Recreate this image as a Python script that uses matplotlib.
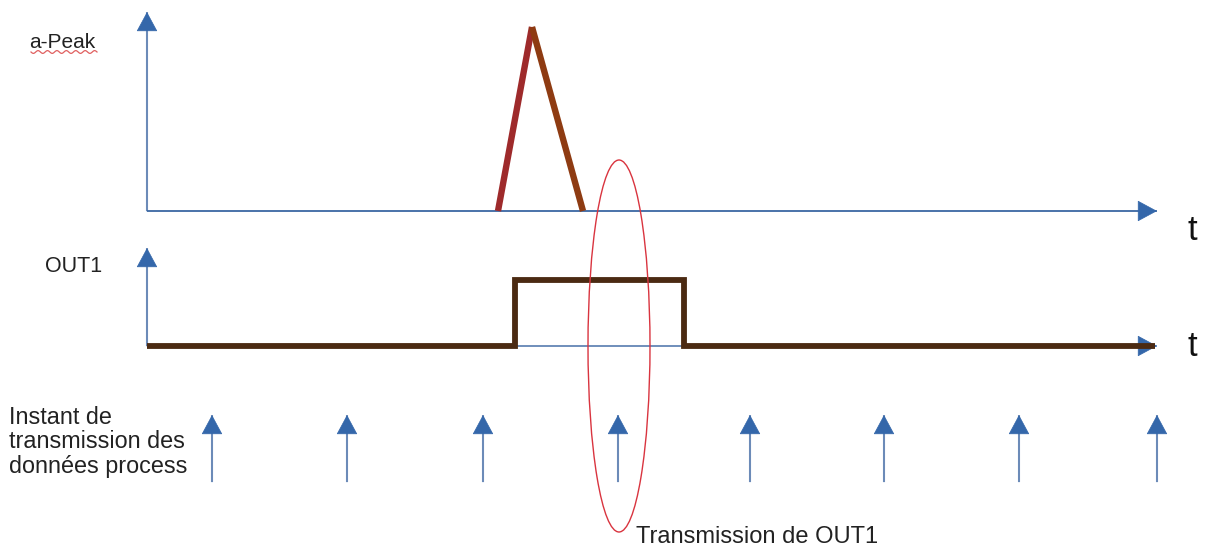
import numpy as np
import matplotlib
matplotlib.use("Agg")
import matplotlib.pyplot as plt
from matplotlib.patches import Ellipse

plt.rcParams["font.family"] = ["Liberation Sans", "DejaVu Sans"]

# ---- data (diagram coordinates in pixel space, y grows downward) ----
peak_x = [498, 532, 583]
peak_y = [211, 27, 211]
out1_x = [147, 515, 515, 684, 684, 1155]
out1_y = [346, 346, 280, 280, 346, 346]
tx_instants_x = [212, 347, 483, 618, 750, 884, 1019, 1157]
labels = {
    "peak": "a-Peak",
    "out1": "OUT1",
    "t": "t",
    "instants": "Instant de\ntransmission des\ndonnées process",
    "tx": "Transmission de OUT1",
}

W, H = 1206, 549
fig = plt.figure(figsize=(W / 100, H / 100), dpi=100)
ax = fig.add_axes([0, 0, 1, 1])
ax.set_xlim(0, W)
ax.set_ylim(H, 0)
ax.axis("off")

line_c = "#8A9FC0"
head_c = "#3467AA"


def arrow(x0, y0, x1, y1, lw=1.5, lc=line_c):
    ax.annotate("", xy=(x1, y1), xytext=(x0, y0),
                arrowprops=dict(arrowstyle="-|>,head_length=1.3,head_width=0.7",
                                lw=0.5, color=head_c, fc=head_c, ec=head_c,
                                mutation_scale=10, shrinkA=0, shrinkB=0),
                zorder=2)
    ax.plot([x0, x1], [y0, y1], color=lc, lw=lw, zorder=1,
            solid_capstyle="butt")

# top axes
arrow(147, 211, 147, 12)
arrow(147, 211, 1157, 211, lw=1.3, lc="#4A6FA5")

# peak
ax.plot(peak_x[:2], peak_y[:2], color="#9E2A2B", lw=4.6, zorder=3, solid_capstyle="butt")
ax.plot(peak_x[1:], peak_y[1:], color="#8E3B12", lw=4.6, zorder=3, solid_capstyle="butt")

# out1 axes
arrow(147, 346, 147, 248)
arrow(147, 346, 1157, 346, lw=1.2, lc="#7F98BC")
ax.plot(out1_x, out1_y, color="#4B2A12", lw=4.2, zorder=3,
        solid_joinstyle="miter", solid_capstyle="butt")

# instants arrows
for x in tx_instants_x:
    arrow(x, 482, x, 415)

# ellipse
ax.add_patch(Ellipse((619, 346), 62, 372, fill=False, ec="#D9343F", lw=1.0, zorder=4))

# texts
tc = "#222222"
ax.text(29, 42, labels["peak"], fontsize=15, va="center", ha="left", color=tc)
wx = np.linspace(31, 97, 80)
ax.plot(wx, 52 + 1.4 * np.sin((wx - 31) / 66 * 2 * np.pi * 7), color="#E06060", lw=0.9)
ax.text(45, 267, labels["out1"], fontsize=15.5, va="center", ha="left", color=tc)
ax.text(1188, 230, labels["t"], fontsize=25, va="center", ha="left", color="#111111")
ax.text(1188, 347, labels["t"], fontsize=25, va="center", ha="left", color="#111111")
ax.text(9, 442, labels["instants"], fontsize=16.8, va="center", ha="left",
        color=tc, linespacing=1.1)
ax.text(636, 537, labels["tx"], fontsize=17, va="center", ha="left", color=tc)

fig.savefig("out.png", dpi=100)
